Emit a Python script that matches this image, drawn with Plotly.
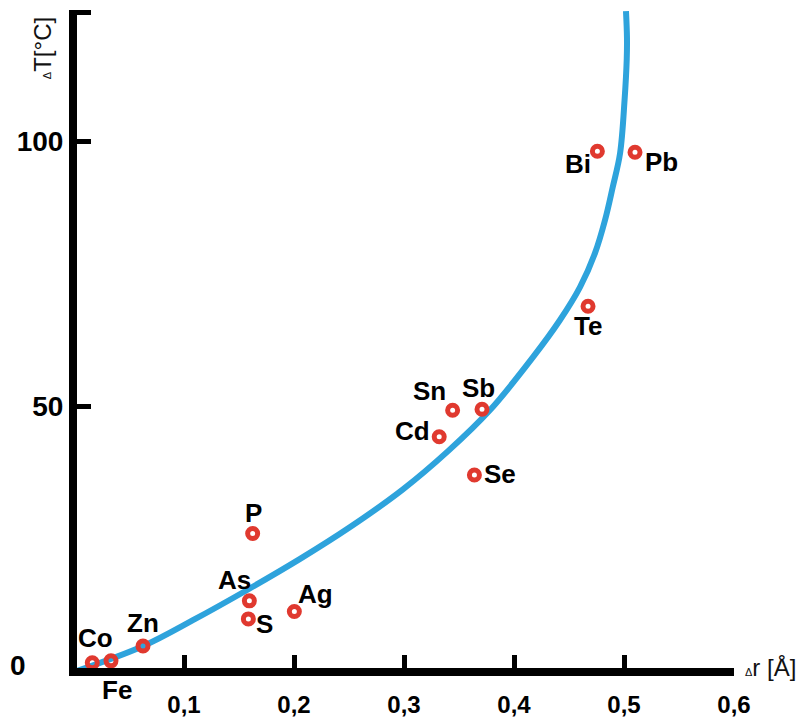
import plotly.graph_objects as go

# Data
elements = ["Co", "Fe", "Zn", "P", "As", "S", "Ag", "Sn", "Sb", "Cd", "Se", "Bi", "Pb", "Te"]
dr = [0.0166, 0.0336, 0.0627, 0.1624, 0.1594, 0.1585, 0.2003, 0.3442, 0.3709, 0.332, 0.364, 0.4758, 0.510, 0.4673]
dT = [1.75, 2.1, 4.9, 26.1, 13.4, 10.0, 11.4, 49.3, 49.5, 44.3, 37.1, 98.1, 97.9, 68.9]

curve_x = [0.0, 0.063, 0.1085, 0.157, 0.2055, 0.251, 0.299, 0.340, 0.378, 0.4176, 0.4418, 0.460, 0.4736, 0.4827, 0.4897, 0.4964, 0.5005, 0.5025, 0.5027, 0.5018]
curve_y = [0.0, 4.9, 9.8, 15.4, 21.3, 27.3, 34.4, 41.6, 49.3, 59.4, 66.3, 72.5, 78.9, 85.1, 91.3, 97.7, 107.7, 115.5, 119.5, 124.5]

x_tickvals = [0.1, 0.2, 0.3, 0.4, 0.5, 0.6]
x_ticktext = ["0,1", "0,2", "0,3", "0,4", "0,5", "0,6"]
y_tickvals = [50, 100, 124.2]
y_ticktext = ["50", "100", ""]

# label offsets in pixels (dx right, dy down)
label_dx = [3, 6, 0, 1, -15, 16, 21, -23, -4, -27, 26, -19, 26, 0]
label_dy = [-25, 29, -23, -20, -21, 5, -17, -19, -21, -6, -1, 13, 10, 20]

FONT = "Liberation Sans, Arial, sans-serif"
BLUE = "#2EA3DC"
RED = "#E0392F"

fig = go.Figure()
fig.add_trace(go.Scatter(x=curve_x, y=curve_y, mode="lines",
                         line=dict(color=BLUE, width=6, shape="spline", smoothing=1.0),
                         hoverinfo="skip", showlegend=False))
fig.add_trace(go.Scatter(x=dr, y=dT, mode="markers", text=elements,
                         marker=dict(symbol="circle-open", size=10, color=RED,
                                     line=dict(width=5, color=RED)),
                         showlegend=False))

annotations = []
for el, xv, yv, dx, dy in zip(elements, dr, dT, label_dx, label_dy):
    annotations.append(dict(x=xv, y=yv, xref="x", yref="y", text=el, showarrow=False,
                            xshift=dx, yshift=-dy, xanchor="center", yanchor="middle",
                            font=dict(family=FONT, size=26, color="black", weight="bold")))

annotations.append(dict(x=-0.0898, y=1.3, xref="paper", yref="y", text="0", showarrow=False,
                        xanchor="center", yanchor="middle",
                        font=dict(family=FONT, size=28, color="black", weight="bold")))
annotations.append(dict(x=-0.0533, y=0.942, xref="paper", yref="paper",
                        text="<span style='font-size:11px'>Δ</span>T[°C]", textangle=-90,
                        showarrow=False, xanchor="center", yanchor="middle",
                        font=dict(family=FONT, size=24, color="#111")))
annotations.append(dict(x=1.0137, y=0.0015, xref="paper", yref="paper",
                        text="<span style='font-size:11px'>Δ</span>r [Å]",
                        showarrow=False, xanchor="left", yanchor="middle",
                        font=dict(family=FONT, size=24, color="#111")))

fig.update_layout(
    width=805, height=720,
    margin=dict(l=77, r=71, t=10, b=52, autoexpand=False),
    paper_bgcolor="white", plot_bgcolor="white",
    xaxis=dict(range=[0.0027, 0.6], showgrid=False, zeroline=False, automargin=False,
               showline=True, linewidth=8, linecolor="black",
               ticks="inside", ticklen=13, tickwidth=5, tickcolor="black",
               tickvals=x_tickvals, ticktext=x_ticktext, ticklabelstandoff=8,
               tickfont=dict(family=FONT, size=24, color="black", weight="bold")),
    yaxis=dict(range=[0.75, 124.7], showgrid=False, zeroline=False, automargin=False,
               showline=True, linewidth=8, linecolor="black",
               ticks="inside", ticklen=14, tickwidth=5, tickcolor="black",
               tickvals=y_tickvals, ticktext=y_ticktext,
               tickfont=dict(family=FONT, size=28, color="black", weight="bold")),
    annotations=annotations,
    showlegend=False,
)

fig.write_html("out.html")
